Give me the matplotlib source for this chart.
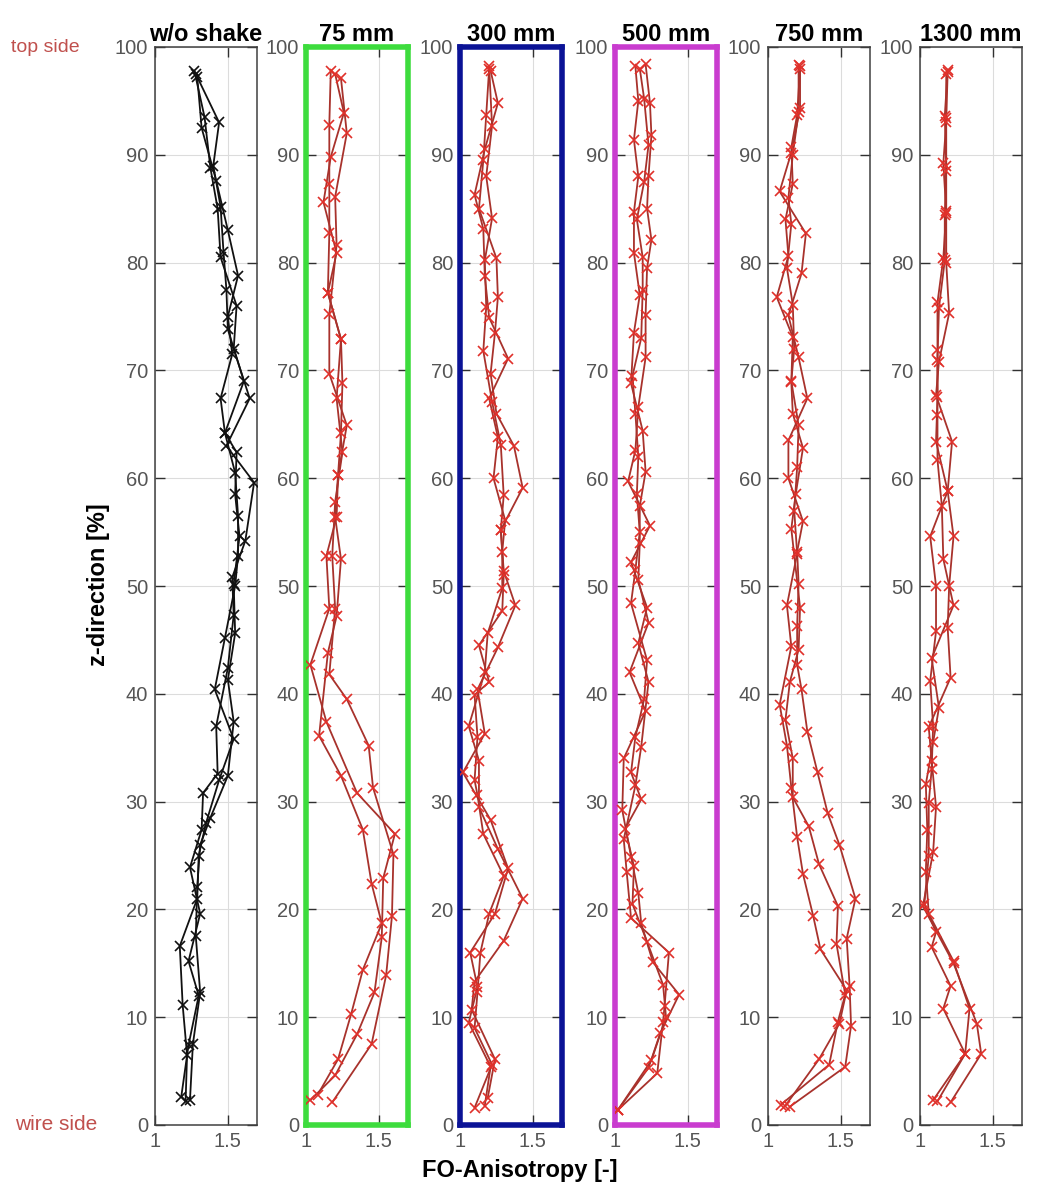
import numpy as np
import matplotlib
matplotlib.use("Agg")
import matplotlib.pyplot as plt

plt.rcParams['font.family'] = ['Liberation Sans', 'DejaVu Sans']

#%% data: FO-anisotropy profiles over z-direction, three samples per setting

titles = ["w/o shake", "75 mm", "300 mm", "500 mm", "750 mm", "1300 mm"]

# w/o shake
ws_z = [
    [97.5, 93.0, 89.0, 85.2, 81.0, 77.5, 73.8, 69.0, 64.2, 62.4, 58.5, 54.6, 50.2, 45.6, 41.3, 37.4, 32.4, 28.5, 26.0, 22.1, 17.5, 12.3, 7.5, 2.3],
    [97.8, 93.5, 88.8, 85.0, 80.5, 76.0, 72.0, 67.4, 63.0, 59.6, 54.2, 50.8, 47.3, 42.4, 37.0, 32.6, 30.8, 27.4, 23.9, 19.6, 15.2, 12.0, 7.4, 2.6],
    [97.2, 92.5, 87.6, 83.0, 78.8, 75.0, 71.5, 67.4, 64.2, 60.5, 56.5, 52.8, 50.0, 45.2, 40.4, 35.8, 32.0, 28.0, 25.0, 21.0, 16.6, 11.1, 6.5, 2.2],
]
ws_fo = [
    [1.28, 1.44, 1.40, 1.45, 1.47, 1.49, 1.50, 1.61, 1.48, 1.56, 1.55, 1.58, 1.54, 1.55, 1.50, 1.54, 1.50, 1.38, 1.31, 1.29, 1.28, 1.31, 1.26, 1.24],
    [1.27, 1.34, 1.38, 1.43, 1.45, 1.56, 1.54, 1.65, 1.49, 1.68, 1.62, 1.53, 1.54, 1.50, 1.42, 1.43, 1.33, 1.32, 1.24, 1.31, 1.23, 1.30, 1.23, 1.18],
    [1.29, 1.32, 1.42, 1.50, 1.57, 1.50, 1.53, 1.45, 1.48, 1.55, 1.57, 1.57, 1.55, 1.48, 1.41, 1.54, 1.44, 1.35, 1.30, 1.29, 1.17, 1.19, 1.22, 1.21],
]

# 75 mm
s75_z = [
    [97.8, 92.8, 87.3, 82.7, 77.2, 72.9, 68.8, 64.2, 60.3, 56.4, 52.8, 47.9, 42.7, 37.4, 30.8, 27.0, 22.9, 17.4, 12.3, 8.4, 4.6, 2.3],
    [97.1, 92.0, 86.1, 81.6, 75.2, 69.7, 64.9, 60.3, 56.4, 52.5, 47.2, 43.8, 36.1, 32.4, 27.4, 22.4, 18.7, 14.4, 10.3, 6.1, 2.8],
    [97.5, 93.9, 89.8, 85.6, 80.9, 77.2, 72.9, 67.4, 62.4, 57.8, 52.8, 47.9, 41.8, 39.5, 35.2, 31.3, 25.1, 19.4, 13.9, 7.5, 2.1],
]
s75_fo = [
    [1.17, 1.16, 1.16, 1.16, 1.15, 1.24, 1.25, 1.24, 1.22, 1.21, 1.14, 1.16, 1.03, 1.14, 1.35, 1.61, 1.53, 1.52, 1.47, 1.35, 1.20, 1.03],
    [1.24, 1.28, 1.20, 1.21, 1.16, 1.16, 1.28, 1.22, 1.20, 1.24, 1.21, 1.15, 1.09, 1.24, 1.39, 1.45, 1.52, 1.39, 1.31, 1.22, 1.08],
    [1.20, 1.26, 1.17, 1.12, 1.21, 1.15, 1.24, 1.21, 1.25, 1.20, 1.18, 1.20, 1.16, 1.28, 1.43, 1.46, 1.60, 1.59, 1.55, 1.45, 1.18],
]

# 300 mm
s300_z = [
    [98.0, 93.7, 89.5, 85.0, 80.4, 76.8, 73.5, 69.7, 66.0, 63.0, 59.1, 55.2, 51.4, 48.2, 44.3, 40.4, 36.3, 32.7, 28.3, 23.8, 19.6, 16.0, 12.8, 9.5, 5.4, 1.8],
    [97.8, 94.8, 90.5, 86.3, 83.1, 78.8, 74.9, 71.1, 67.4, 63.8, 60.0, 56.1, 53.2, 49.8, 45.6, 42.0, 37.0, 33.8, 29.5, 25.6, 21.0, 17.1, 13.3, 10.7, 6.1, 2.5],
    [98.2, 92.7, 88.0, 84.1, 80.2, 75.9, 71.8, 67.1, 63.1, 58.4, 55.2, 51.0, 47.7, 44.5, 41.1, 39.9, 36.0, 32.0, 30.6, 27.0, 23.1, 19.6, 16.0, 12.3, 9.0, 5.6, 1.6],
]
s300_fo = [
    [1.20, 1.18, 1.16, 1.13, 1.25, 1.26, 1.24, 1.21, 1.25, 1.37, 1.43, 1.28, 1.30, 1.38, 1.26, 1.12, 1.17, 1.02, 1.21, 1.33, 1.24, 1.07, 1.12, 1.06, 1.21, 1.17],
    [1.21, 1.26, 1.17, 1.10, 1.16, 1.17, 1.20, 1.33, 1.20, 1.26, 1.23, 1.31, 1.29, 1.29, 1.19, 1.17, 1.06, 1.13, 1.13, 1.26, 1.43, 1.30, 1.10, 1.08, 1.24, 1.19],
    [1.20, 1.22, 1.18, 1.22, 1.17, 1.18, 1.16, 1.22, 1.28, 1.30, 1.28, 1.30, 1.29, 1.13, 1.20, 1.10, 1.12, 1.10, 1.12, 1.16, 1.30, 1.20, 1.14, 1.12, 1.10, 1.22, 1.10],
]

# 500 mm
s500_z = [
    [98.2, 95.0, 91.4, 88.0, 84.7, 80.9, 77.0, 73.5, 68.8, 64.4, 60.6, 57.4, 54.0, 50.6, 46.6, 42.0, 38.4, 34.0, 29.2, 24.9, 21.5, 18.7, 15.1, 12.1, 8.5, 5.3, 1.4],
    [98.4, 94.8, 91.8, 88.0, 85.0, 82.1, 79.5, 75.1, 71.2, 66.6, 62.6, 59.7, 55.6, 52.2, 48.0, 44.7, 41.1, 35.1, 31.5, 26.5, 23.5, 19.2, 16.0, 11.0, 9.6, 4.8, 1.4],
    [98.0, 95.2, 90.9, 87.5, 84.0, 80.5, 77.5, 73.0, 69.5, 66.0, 62.0, 58.5, 55.0, 51.5, 48.4, 43.1, 39.5, 36.0, 32.7, 30.2, 27.5, 24.0, 20.5, 17.0, 13.0, 10.0, 6.0, 1.4],
]
s500_fo = [
    [1.14, 1.16, 1.13, 1.16, 1.13, 1.13, 1.17, 1.13, 1.11, 1.19, 1.21, 1.17, 1.17, 1.16, 1.23, 1.10, 1.21, 1.06, 1.05, 1.11, 1.16, 1.18, 1.26, 1.44, 1.31, 1.23, 1.02],
    [1.21, 1.24, 1.25, 1.23, 1.22, 1.25, 1.22, 1.21, 1.21, 1.16, 1.14, 1.09, 1.24, 1.11, 1.22, 1.16, 1.23, 1.18, 1.14, 1.06, 1.08, 1.11, 1.37, 1.34, 1.33, 1.29, 1.02],
    [1.17, 1.20, 1.23, 1.20, 1.15, 1.19, 1.19, 1.18, 1.12, 1.14, 1.16, 1.15, 1.17, 1.14, 1.11, 1.22, 1.20, 1.14, 1.11, 1.18, 1.07, 1.13, 1.12, 1.22, 1.33, 1.35, 1.25, 1.02],
]

# 750 mm
s750_z = [
    [98.2, 94.3, 90.2, 86.6, 82.7, 79.0, 75.1, 71.2, 67.4, 63.5, 60.0, 56.0, 53.2, 50.2, 46.3, 42.7, 40.4, 36.5, 32.7, 28.9, 26.0, 21.0, 17.3, 12.9, 9.2, 5.4, 1.7],
    [98.0, 93.7, 90.7, 87.3, 84.0, 80.6, 76.8, 73.1, 68.9, 66.0, 62.8, 58.5, 55.3, 48.0, 44.1, 41.1, 37.6, 34.0, 30.4, 27.7, 24.2, 20.3, 16.8, 12.1, 9.6, 5.6, 1.9],
    [98.3, 94.0, 90.0, 86.0, 83.6, 79.5, 76.1, 72.0, 69.0, 64.9, 61.0, 57.0, 53.0, 48.2, 44.4, 39.0, 35.2, 31.3, 26.7, 23.3, 19.4, 16.3, 12.5, 9.4, 6.1, 1.8],
]
s750_fo = [
    [1.22, 1.22, 1.16, 1.08, 1.26, 1.23, 1.14, 1.21, 1.27, 1.14, 1.14, 1.24, 1.20, 1.21, 1.20, 1.20, 1.23, 1.27, 1.34, 1.41, 1.49, 1.60, 1.54, 1.56, 1.57, 1.53, 1.15],
    [1.22, 1.20, 1.16, 1.17, 1.12, 1.14, 1.06, 1.17, 1.16, 1.17, 1.24, 1.19, 1.16, 1.22, 1.21, 1.15, 1.12, 1.17, 1.17, 1.28, 1.35, 1.48, 1.47, 1.53, 1.48, 1.42, 1.09],
    [1.21, 1.21, 1.17, 1.14, 1.16, 1.13, 1.17, 1.18, 1.16, 1.21, 1.20, 1.18, 1.20, 1.13, 1.16, 1.08, 1.13, 1.16, 1.20, 1.24, 1.31, 1.36, 1.54, 1.49, 1.35, 1.12],
]

# 1300 mm
s1300_z = [
    [97.7, 93.4, 88.5, 84.6, 80.0, 75.3, 70.8, 67.7, 63.4, 58.8, 54.6, 50.0, 46.1, 41.5, 36.9, 33.8, 29.5, 25.3, 20.3, 15.0, 9.4, 6.6, 2.1],
    [97.5, 93.0, 89.2, 84.8, 80.4, 76.3, 71.9, 65.9, 61.7, 57.4, 52.5, 48.2, 43.3, 38.7, 35.5, 31.6, 27.4, 23.5, 19.6, 15.2, 10.8, 6.6, 2.3],
    [97.9, 93.6, 89.0, 84.4, 80.2, 75.8, 71.0, 67.5, 63.4, 58.8, 54.6, 50.0, 45.8, 41.2, 37.0, 33.0, 29.9, 25.0, 20.5, 17.9, 16.5, 12.9, 10.8, 6.6, 2.2],
]
s1300_fo = [
    [1.19, 1.18, 1.18, 1.18, 1.18, 1.20, 1.13, 1.11, 1.22, 1.19, 1.23, 1.20, 1.19, 1.21, 1.06, 1.08, 1.11, 1.09, 1.02, 1.23, 1.39, 1.42, 1.21],
    [1.18, 1.18, 1.16, 1.18, 1.16, 1.12, 1.12, 1.12, 1.12, 1.15, 1.16, 1.23, 1.08, 1.13, 1.09, 1.04, 1.05, 1.04, 1.06, 1.23, 1.34, 1.31, 1.09],
    [1.19, 1.17, 1.18, 1.17, 1.17, 1.13, 1.12, 1.12, 1.11, 1.19, 1.07, 1.11, 1.11, 1.07, 1.09, 1.08, 1.06, 1.06, 1.03, 1.11, 1.08, 1.21, 1.16, 1.31, 1.12],
]

all_z = [ws_z, s75_z, s300_z, s500_z, s750_z, s1300_z]
all_fo = [ws_fo, s75_fo, s300_fo, s500_fo, s750_fo, s1300_fo]

#%% layout

W, H = 1038, 1193
fig = plt.figure(figsize=(W / 100, H / 100), dpi=100)

lefts = [155, 306, 460, 615, 768, 920]
ax_w = 102
ax_top, ax_bot = 47, 1125
frame_colors = [None, '#3ddc3d', '#0b1396', '#c93ccf', None, None]
side_red = '#c0504d'

for i, left in enumerate(lefts):
    ax = fig.add_axes([left / W, 1 - ax_bot / H, ax_w / W, (ax_bot - ax_top) / H])

    if i == 0:
        line_c, mark_c = '#111111', '#111111'
    else:
        line_c, mark_c = '#a8322c', '#e0302a'

    for z, fo in zip(all_z[i], all_fo[i]):
        ax.plot(fo, z, '-', color=line_c, lw=1.3, zorder=3)
        ax.plot(fo, z, 'x', color=mark_c, ms=7, mew=1.2, zorder=4)

    ax.set_xlim(1, 1.7)
    ax.set_ylim(0, 100)
    ax.set_xticks([1, 1.5])
    ax.set_xticklabels(['1', '1.5'])
    ax.set_yticks(np.arange(0, 101, 10))
    ax.grid(True, color='#dcdcdc', lw=0.8, zorder=0)
    ax.tick_params(direction='in', top=True, right=True, length=7, width=1.0,
                   labelsize=14.5, labelcolor='#555555', color='#303030', pad=5)

    fc = frame_colors[i]
    for sp in ax.spines.values():
        if fc:
            sp.set_color(fc)
            sp.set_linewidth(4)
        else:
            sp.set_color('#404040')
            sp.set_linewidth(1.1)

    ax.set_title(titles[i], fontsize=17, fontweight='bold', pad=4)

fig.text(98 / W, 1 - 585 / H, 'z-direction [%]', rotation=90, ha='center', va='center',
         fontsize=17, fontweight='bold')
fig.text(520 / W, 1 - 1170 / H, 'FO-Anisotropy [-]', ha='center', va='center',
         fontsize=17, fontweight='bold')
fig.text(45 / W, 1 - 47 / H, 'top side', ha='center', va='center', fontsize=14, color=side_red)
fig.text(56 / W, 1 - 1125 / H, 'wire side', ha='center', va='center', fontsize=15, color=side_red)

fig.savefig('out.png', dpi=100)
